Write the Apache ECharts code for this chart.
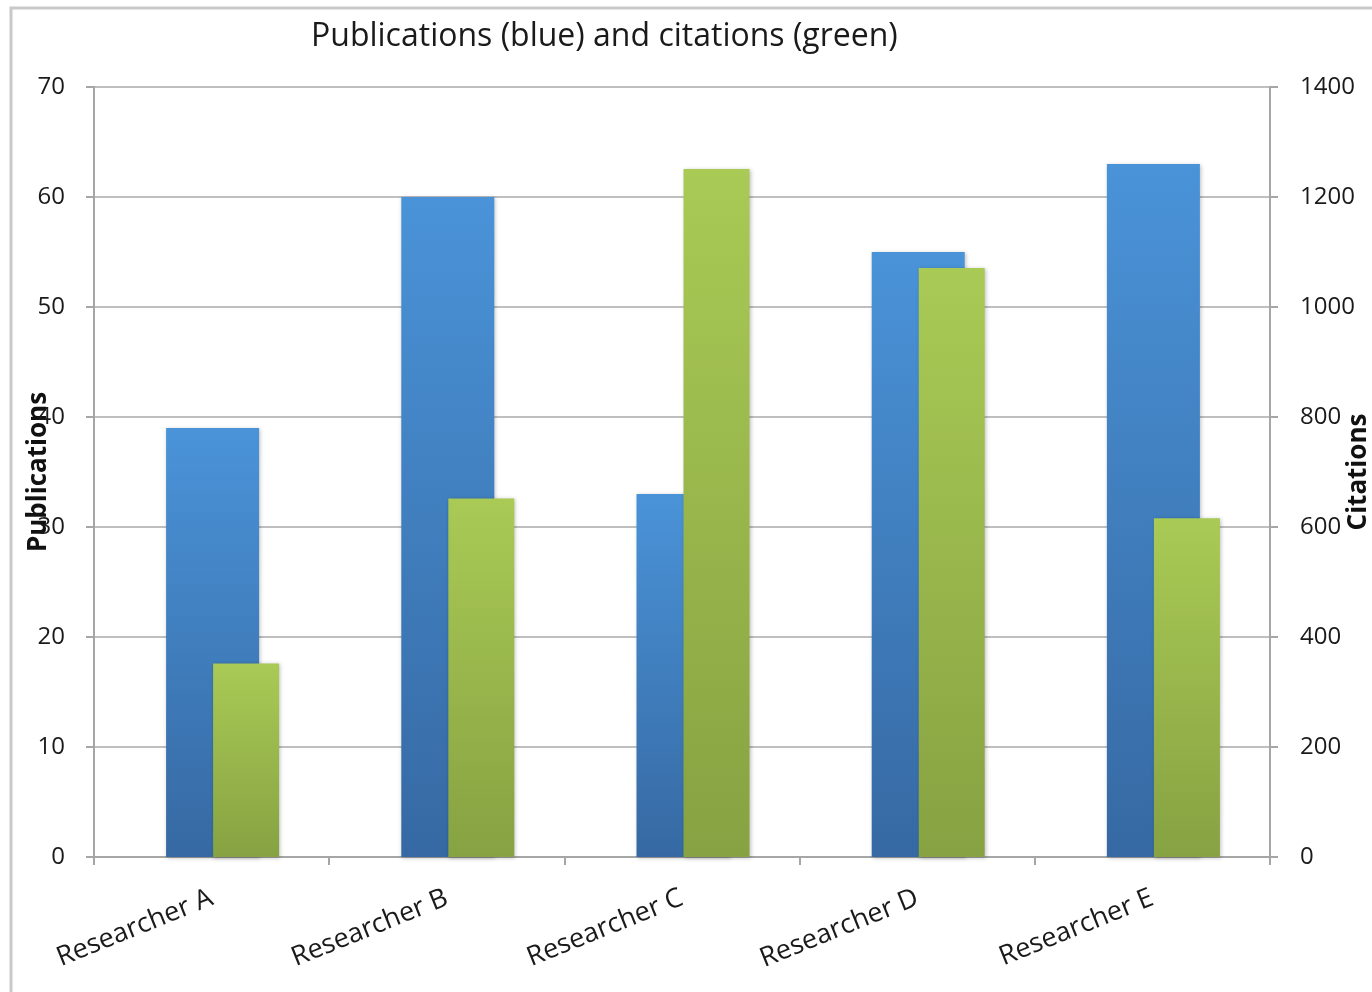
<!DOCTYPE html>
<html>
<head>
<meta charset="utf-8">
<script src="https://cdn.jsdelivr.net/npm/echarts@6/dist/echarts.min.js"></script>
<style>
html,body{margin:0;padding:0;background:#fff;}
#chart{width:1372px;height:992px;}
</style>
</head>
<body>
<div id="chart"></div>
<script>
const categories = ['Researcher A', 'Researcher B', 'Researcher C', 'Researcher D', 'Researcher E'];
const publications = [39, 60, 33, 55, 63];
const citations = [352, 652, 1251, 1071, 616];
const leftTicks = { min: 0, max: 70, interval: 10 };
const rightTicks = { min: 0, max: 1400, interval: 200 };

const FONT = 'Open Sans';
const chart = echarts.init(document.getElementById('chart'), null, { renderer: 'canvas' });

function grad(top, bottom) {
  return new echarts.graphic.LinearGradient(0, 0, 0, 1, [
    { offset: 0, color: top },
    { offset: 1, color: bottom }
  ]);
}

chart.setOption({
  animation: false,
  backgroundColor: '#ffffff',
  textStyle: { fontFamily: FONT },
  title: {
    text: 'Publications (blue) and citations (green)',
    left: 306,
    top: 16,
    textStyle: { fontFamily: FONT, fontSize: 32, fontWeight: 'normal', color: '#1a1a1a' }
  },
  graphic: [{
    type: 'rect',
    shape: { x: 11, y: 8, width: 1400, height: 1100 },
    style: { fill: 'none', stroke: '#c9c9c9', lineWidth: 3 },
    silent: true
  }],
  grid: { left: 94, right: 102, top: 87, bottom: 135, containLabel: false, outerBoundsMode: 'none' },
  xAxis: {
    type: 'category',
    data: categories,
    axisLine: { show: true, lineStyle: { color: '#a6a6a6', width: 2 } },
    axisTick: { show: true, length: 8, lineStyle: { color: '#a6a6a6', width: 2 } },
    axisLabel: { rotate: 22, margin: 40, fontFamily: FONT, fontSize: 27, color: '#1a1a1a' }
  },
  yAxis: [{
    type: 'value',
    position: 'left',
    min: leftTicks.min, max: leftTicks.max, interval: leftTicks.interval,
    name: 'Publications',
    nameLocation: 'middle',
    nameGap: 42,
    nameMoveOverlap: false,
    nameTextStyle: { fontFamily: FONT, fontSize: 26, fontWeight: 'bold', color: '#111' },
    axisLine: { show: true, lineStyle: { color: '#a6a6a6', width: 2 } },
    axisTick: { show: true, length: 8, lineStyle: { color: '#a6a6a6', width: 2 } },
    axisLabel: { margin: 29, fontFamily: FONT, fontSize: 24, color: '#1a1a1a' },
    splitLine: { show: true, lineStyle: { color: '#bfbfbf', width: 2 } }
  }, {
    type: 'value',
    position: 'right',
    min: rightTicks.min, max: rightTicks.max, interval: rightTicks.interval,
    name: 'Citations',
    nameLocation: 'middle',
    nameGap: 76,
    nameRotate: 90,
    nameMoveOverlap: false,
    nameTextStyle: { fontFamily: FONT, fontSize: 26, fontWeight: 'bold', color: '#111' },
    axisLine: { show: true, lineStyle: { color: '#a6a6a6', width: 2 } },
    axisTick: { show: true, length: 8, lineStyle: { color: '#a6a6a6', width: 2 } },
    axisLabel: { margin: 30, fontFamily: FONT, fontSize: 24, color: '#1a1a1a', formatter: (v) => String(v) },
    splitLine: { show: false }
  }],
  series: [{
    name: 'Publications',
    type: 'bar',
    yAxisIndex: 0,
    data: publications,
    barWidth: 93,
    barGap: '-49.46%',
    itemStyle: {
      color: grad('#4a93d8', '#3669a3'),
      shadowBlur: 4, shadowColor: 'rgba(0,0,0,0.25)', shadowOffsetX: 1, shadowOffsetY: 1
    },
    z: 2
  }, {
    name: 'Citations',
    type: 'bar',
    yAxisIndex: 1,
    data: citations,
    barWidth: 66,
    barGap: '-49.46%',
    itemStyle: {
      color: grad('#a9ca55', '#87a242'),
      shadowBlur: 4, shadowColor: 'rgba(0,0,0,0.25)', shadowOffsetX: 1, shadowOffsetY: 1
    },
    z: 3
  }, {
    name: 'spacer',
    type: 'bar',
    yAxisIndex: 0,
    data: categories.map(() => '-'),
    barWidth: 10.64,
    barGap: '-49.46%',
    silent: true
  }]
});
</script>
</body>
</html>
